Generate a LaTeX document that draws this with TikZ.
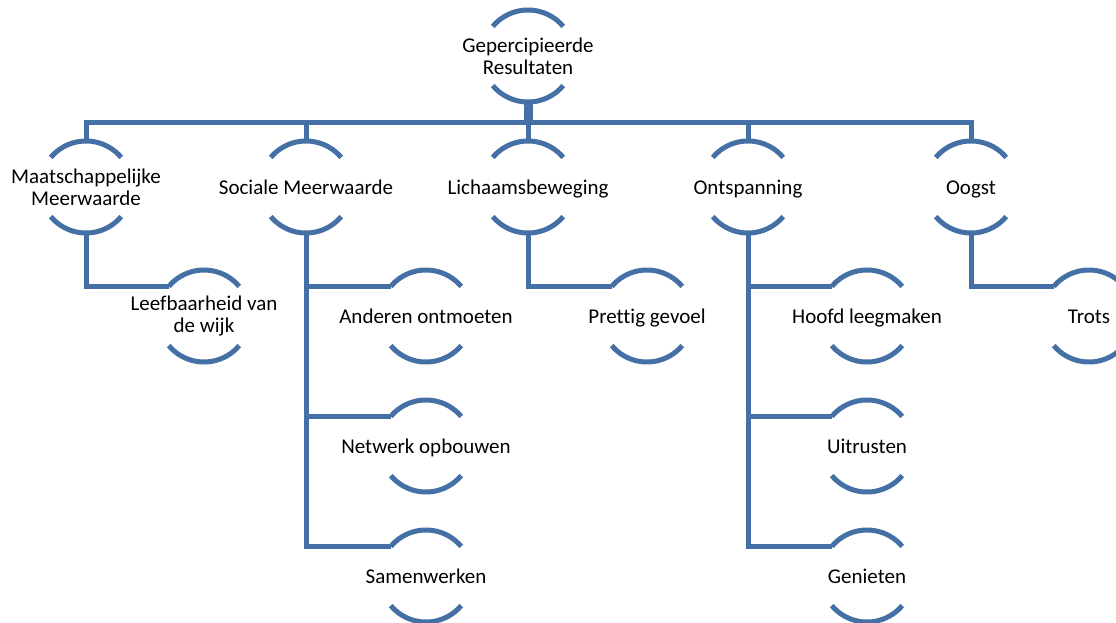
\documentclass[tikz,border=0pt]{standalone}
\usepackage{fontspec}
\setmainfont[Ligatures=NoCommon]{Carlito}
\usetikzlibrary{calc}
\definecolor{linkblue}{RGB}{68,112,166}
\tikzset{
  concept/.style={font=\fontsize{21}{22}\selectfont, align=center, inner sep=0pt, text=black},
  oneline/.style={concept, text height=15pt, text depth=0pt},
  ring/.style={draw=linkblue, line width=5pt},
  link/.style={draw=linkblue, line width=5pt},
  stem/.style={draw=linkblue, line width=9pt},
}
% top and bottom arcs of a concept ring, radius 46pt around the node centre
\newcommand\ringarcs[1]{%
  \draw[ring] ([shift={(140:46pt)}]#1.center) arc[start angle=140,end angle=40,radius=46pt];
  \draw[ring] ([shift={(220:46pt)}]#1.center) arc[start angle=220,end angle=320,radius=46pt];
}
\begin{document}
\begin{tikzpicture}[x=1pt,y=1pt]
\useasboundingbox (0,0) rectangle (1116,-622);
\clip (0,0) rectangle (1116,-622);

% root
\node[concept] (T) at (528,-56) {Gepercipieerde\\Resultaten};
% first level
\node[concept] (M) at (86,-187) {Maatschappelijke\\Meerwaarde};
\node[oneline] (S) at (306,-187) {Sociale Meerwaarde};
\node[oneline] (L) at (528,-187) {Lichaamsbeweging};
\node[oneline] (O) at (748,-187) {Ontspanning};
\node[oneline] (G) at (971,-187) {Oogst};
% second level
\node[concept] (M1) at (204,-316) {Leefbaarheid van\\de wijk};
\node[oneline] (S1) at (426,-316) {Anderen ontmoeten};
\node[oneline] (S2) at (426,-446) {Netwerk opbouwen};
\node[oneline] (S3) at (426,-576) {Samenwerken};
\node[oneline] (L1) at (647,-316) {Prettig gevoel};
\node[oneline] (O1) at (867,-316) {Hoofd leegmaken};
\node[oneline] (O2) at (867,-446) {Uitrusten};
\node[oneline] (O3) at (867,-576) {Genieten};
\node[oneline] (G1) at (1089,-316) {Trots};

\foreach \n in {T,M,S,L,O,G,M1,S1,S2,S3,L1,O1,O2,O3,G1} {\ringarcs{\n}}

% root to first level
\foreach \c in {M,S,L,O,G}
  \draw[link] ($(T.center)+(0,-46)$) -- ++(0,-20) -| ($(\c.center)+(0,46)$);
\draw[stem] ($(T.center)+(0,-46)$) -- ++(0,-20);

% first level to second level
\foreach \p/\c in {M/M1,S/S1,S/S2,S/S3,L/L1,O/O1,O/O2,O/O3,G/G1}
  \draw[link] ($(\p.center)+(0,-46)$) |- ($(\c.center)+(140:46pt)$);
\end{tikzpicture}
\end{document}
